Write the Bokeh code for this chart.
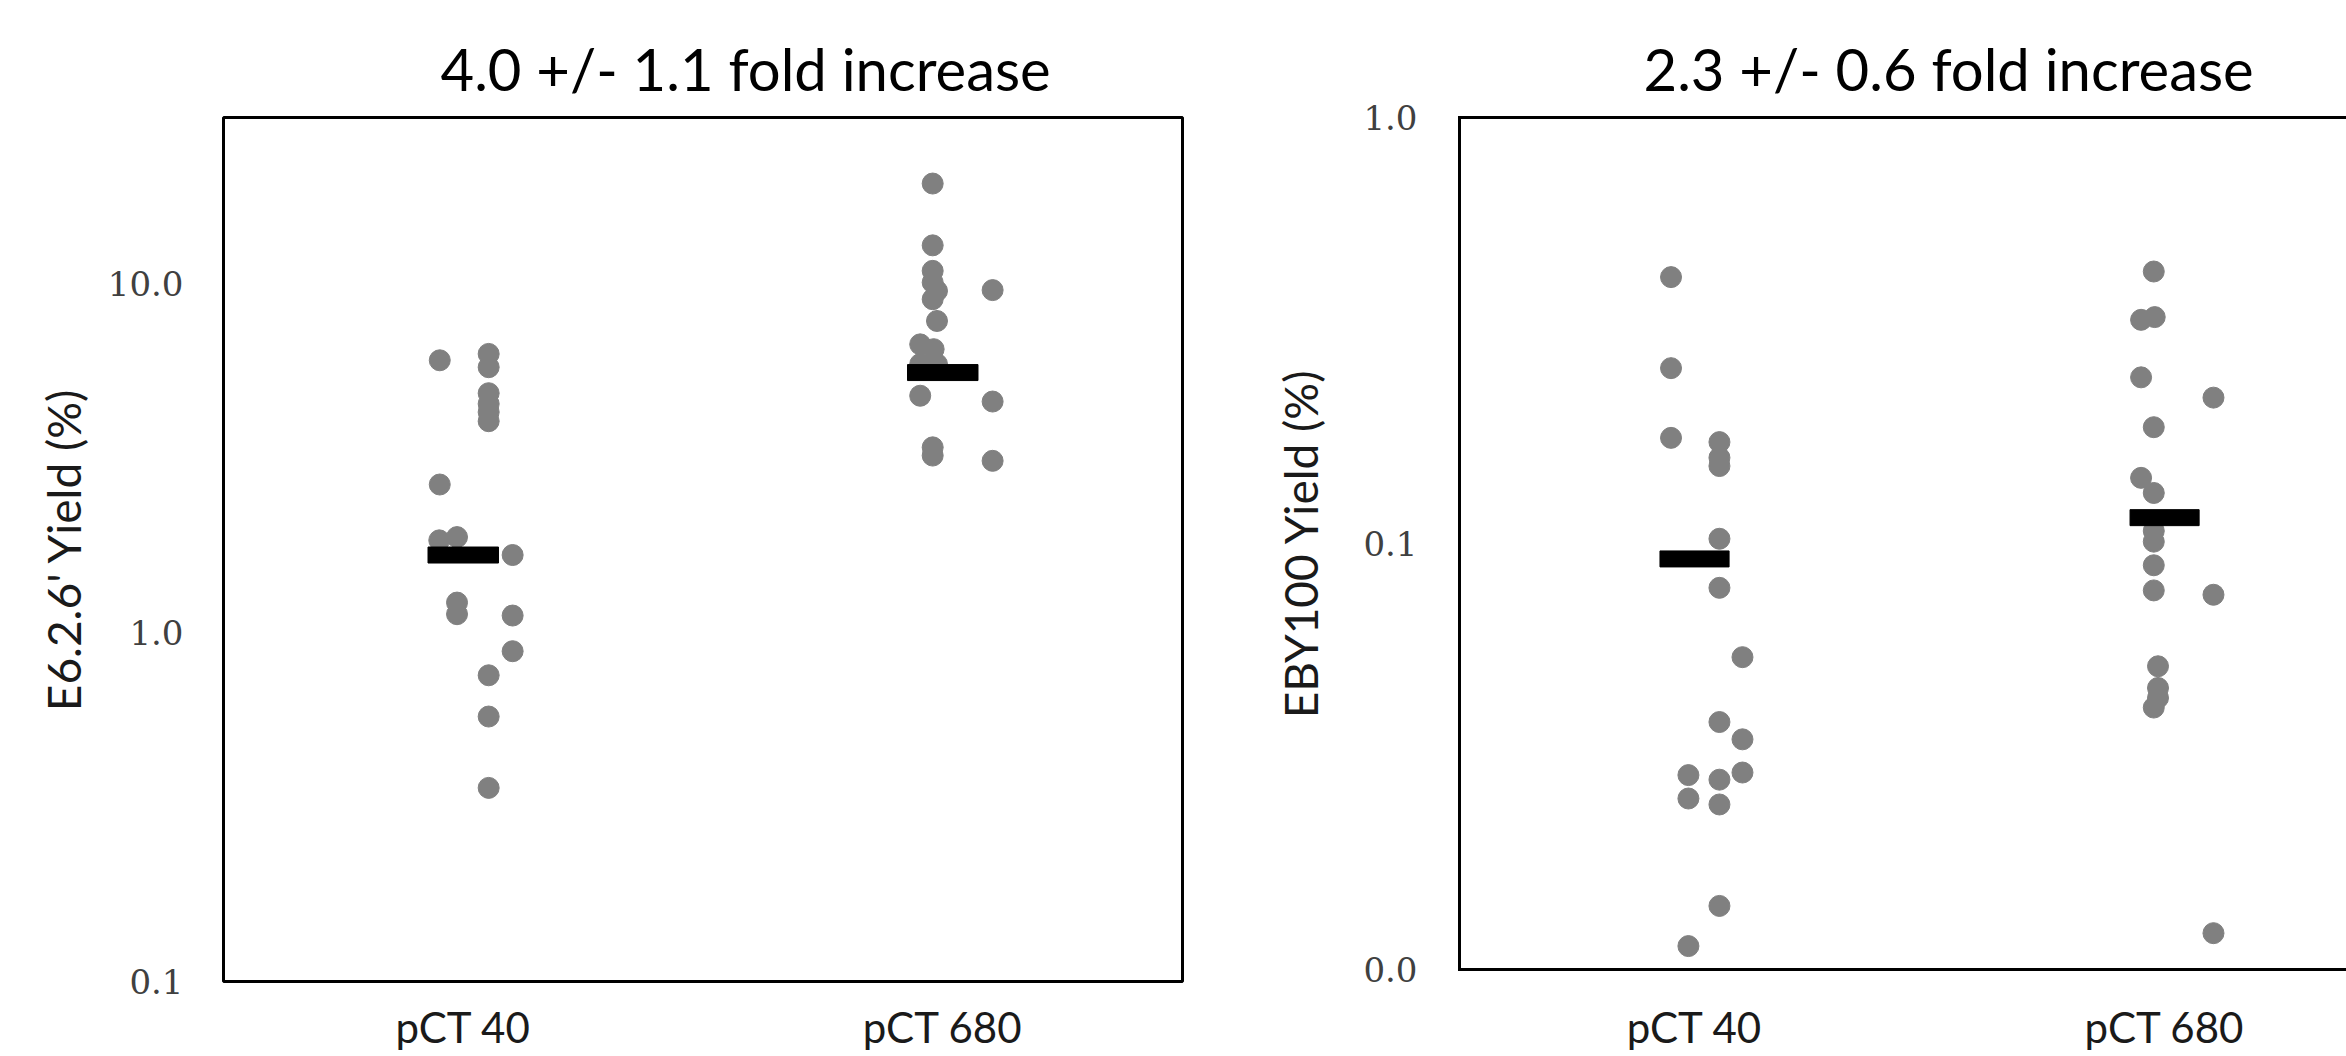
from bokeh.plotting import figure
from bokeh.models import FixedTicker, Range1d, LinearAxis, ColumnDataSource, PrintfTickFormatter, Title
from bokeh.layouts import row
from bokeh.embed import file_html
from bokeh.resources import INLINE

# ---------------- data ----------------
categories = ["pCT 40", "pCT 680"]

left_title = "4.0 +/- 1.1 fold increase"
left_ylabel = "E6.2.6' Yield (%)"
left_ticks = [0.1, 1.0, 10.0]

e6_pct40 = [6.04, 6.30, 5.77, 4.86, 4.53, 4.29, 4.04, 2.66, 1.84, 1.88, 1.67,
            1.22, 1.13, 1.12, 0.885, 0.755, 0.575, 0.359]
e6_pct40_jitter = [-0.049, 0.053, 0.053, 0.053, 0.053, 0.053, 0.053, -0.049, -0.050,
                   -0.013, 0.103, -0.013, -0.013, 0.103, 0.103, 0.053, 0.053, 0.053]
e6_pct680 = [19.4, 12.9, 10.9, 10.1, 9.55, 9.04, 9.60, 7.83, 6.71, 6.50, 5.89, 5.89,
             4.78, 4.60, 3.40, 3.22, 3.11]
e6_pct680_jitter = [-0.021, -0.021, -0.021, -0.021, -0.012, -0.021, 0.104, -0.012, -0.047,
                    -0.019, -0.047, -0.012, -0.047, 0.104, -0.021, -0.021, 0.104]
e6_means = [1.67, 5.57]

right_title = "2.3 +/- 0.6 fold increase"
right_ylabel = "EBY100 Yield (%)"
right_ticks = [0.01, 0.1, 1.0]

eby_pct40 = [0.422, 0.258, 0.177, 0.173, 0.159, 0.152, 0.1026, 0.0787, 0.0541, 0.0381,
             0.0347, 0.0286, 0.0279, 0.0290, 0.0252, 0.0244, 0.0141, 0.01135]
eby_pct40_jitter = [-0.050, -0.050, -0.050, 0.053, 0.053, 0.053, 0.053, 0.053, 0.102, 0.053,
                    0.102, -0.013, 0.053, 0.102, -0.013, 0.053, 0.053, -0.013]
eby_pct680 = [0.435, 0.335, 0.340, 0.2455, 0.22, 0.1875, 0.1426, 0.1314, 0.107, 0.101,
              0.0889, 0.0776, 0.0758, 0.0515, 0.0458, 0.0434, 0.0412, 0.01217]
eby_pct680_jitter = [-0.023, -0.050, -0.021, -0.050, 0.104, -0.023, -0.050, -0.023, -0.023,
                     -0.023, -0.023, -0.023, 0.104, -0.014, -0.014, -0.014, -0.023, 0.104]
eby_means = [0.092, 0.115]

# ---------------- styling ----------------
TEXT_FONT = "Lato"
TICK_FONT = "DejaVu Serif"
DOT = "#808080"
HEIGHT = 1056


def points_source(groups, jitters):
    xs, ys = [], []
    for i, (vals, jit) in enumerate(zip(groups, jitters)):
        for v, j in zip(vals, jit):
            xs.append(i + 1 + j)
            ys.append(v)
    return ColumnDataSource(data=dict(x=xs, y=ys))


def style_yaxis(p, ticks, standoff, label, label_standoff):
    ax = p.yaxis[0]
    ax.ticker = FixedTicker(ticks=ticks, minor_ticks=[])
    ax.formatter = PrintfTickFormatter(format="%.1f")
    ax.major_tick_line_color = None
    ax.minor_tick_line_color = None
    ax.major_tick_out = 0
    ax.major_tick_in = 0
    ax.major_label_standoff = standoff
    ax.major_label_text_font = TICK_FONT
    ax.major_label_text_font_size = "34px"
    ax.major_label_text_color = "#404040"
    ax.axis_label = label
    ax.axis_label_text_font = TEXT_FONT
    ax.axis_label_text_font_size = "46px"
    ax.axis_label_text_font_style = "normal"
    ax.axis_label_text_color = "#1a1a1a"
    ax.axis_label_standoff = label_standoff


def style_xaxis(ax, standoff):
    ax.ticker = FixedTicker(ticks=[1, 2], minor_ticks=[])
    ax.major_label_overrides = {1: categories[0], 2: categories[1]}
    ax.major_tick_line_color = None
    ax.minor_tick_line_color = None
    ax.major_tick_out = 0
    ax.major_tick_in = 0
    ax.major_label_standoff = standoff
    ax.major_label_text_font = TEXT_FONT
    ax.major_label_text_font_size = "42px"
    ax.major_label_text_color = "#1a1a1a"


def make_title(text, offset, standoff):
    return Title(text=text, align="left", offset=offset, standoff=standoff,
                 text_font=TEXT_FONT, text_font_size="58px", text_font_style="normal",
                 text_color="black")


# ---------------- left panel ----------------
p1 = figure(width=1248, height=HEIGHT, x_range=Range1d(0.5, 2.5), y_range=Range1d(0.1, 30),
            y_axis_type="log", output_backend="svg", toolbar_location=None,
            min_border_left=223, min_border_right=66, min_border_top=117,
            min_border_bottom=HEIGHT - 981)
p1.frame_align = False
p1.title = make_title(left_title, 217, 30)
p1.grid.visible = False
p1.outline_line_color = "black"
p1.outline_line_width = 3
p1.outline_line_alpha = 1.0
p1.yaxis.axis_line_color = None
p1.xaxis.axis_line_color = None
style_yaxis(p1, left_ticks, 40, left_ylabel, 14)
style_xaxis(p1.xaxis[0], 20)

src1 = points_source([e6_pct40, e6_pct680], [e6_pct40_jitter, e6_pct680_jitter])
p1.scatter(x="x", y="y", source=src1, marker="circle", size=21, fill_color=DOT, line_color=DOT)
p1.rect(x=[1, 2], y=e6_means, width=0.147, height=16, height_units="screen",
        fill_color="black", line_color="black")

# ---------------- right panel ----------------
p2 = figure(width=1098, height=HEIGHT, x_range=Range1d(0.5, 2.387), y_range=Range1d(0.01, 1.0),
            y_axis_type="log", output_backend="svg", toolbar_location=None,
            min_border_left=211, min_border_right=0, min_border_top=117,
            min_border_bottom=HEIGHT - 969)
p2.frame_align = False
p2.title = make_title(right_title, 184, 30)
p2.grid.visible = False
p2.outline_line_color = None
style_yaxis(p2, right_ticks, 42, right_ylabel, 32)
p2.yaxis.axis_line_color = "black"
p2.yaxis.axis_line_width = 3
p2.yaxis.axis_line_cap = "square"
style_xaxis(p2.xaxis[0], 32)
p2.xaxis.axis_line_color = "black"
p2.xaxis.axis_line_width = 3
p2.xaxis.axis_line_cap = "square"
top_axis = LinearAxis(ticker=FixedTicker(ticks=[]), axis_line_color="black", axis_line_width=3,
                      axis_line_cap="square", major_tick_line_color=None,
                      minor_tick_line_color=None, major_tick_out=0, major_label_standoff=0)
p2.add_layout(top_axis, "above")

src2 = points_source([eby_pct40, eby_pct680], [eby_pct40_jitter, eby_pct680_jitter])
p2.scatter(x="x", y="y", source=src2, marker="circle", size=21, fill_color=DOT, line_color=DOT)
p2.rect(x=[1, 2], y=eby_means, width=0.147, height=16, height_units="screen",
        fill_color="black", line_color="black")

layout = row(p1, p2)
open("out.html", "w").write(file_html(layout, INLINE))
